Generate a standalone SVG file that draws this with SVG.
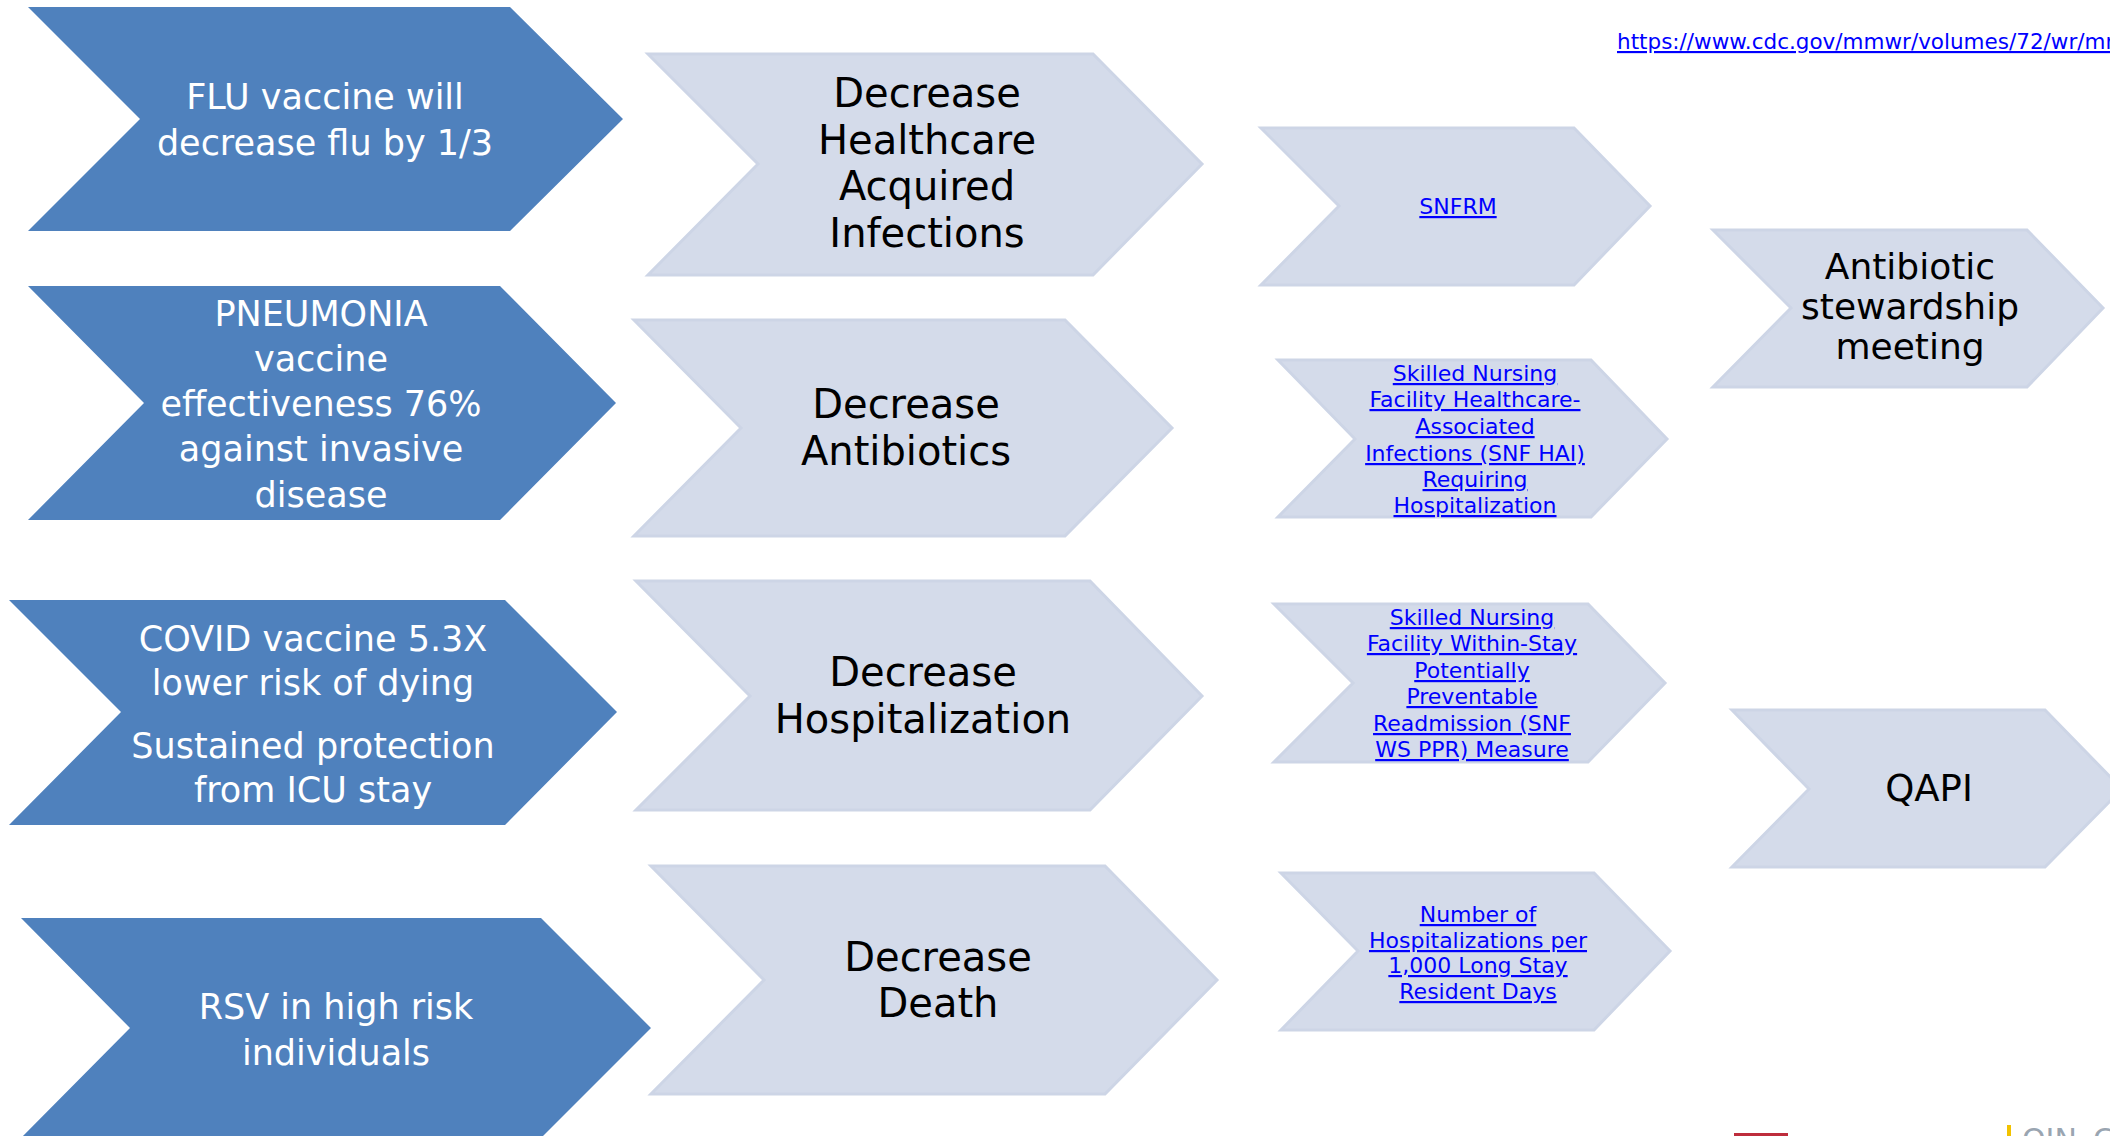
<svg xmlns="http://www.w3.org/2000/svg" width="2110" height="1136" viewBox="0 0 2110 1136">
<style>
.dark{fill:#4F81BD;}
.light{fill:#D4DBEA;stroke:#CDD5E6;stroke-width:3;stroke-linejoin:miter;}
.wt{font-family:"DejaVu Sans","Liberation Sans",sans-serif;font-size:35px;fill:#FFFFFF;text-anchor:middle;}
.bk{font-family:"DejaVu Sans","Liberation Sans",sans-serif;font-size:40px;fill:#000000;text-anchor:middle;}
.bk2{font-family:"DejaVu Sans","Liberation Sans",sans-serif;font-size:36px;fill:#000000;text-anchor:middle;}
.lk{font-family:"DejaVu Sans","Liberation Sans",sans-serif;font-size:22px;fill:#0000FF;text-anchor:middle;text-decoration:underline;}
</style>
<rect width="2110" height="1136" fill="#FFFFFF"/>

<g id="node-flu">
<polygon class="dark" points="28,7 510,7 623,119 510,231 28,231 140,119"/>
<text class="wt" x="325" y="109">FLU vaccine will</text>
<text class="wt" x="325" y="155">decrease flu by 1/3</text>
</g>

<g id="node-pneumonia">
<polygon class="dark" points="28,286 500,286 616,403 500,520 28,520 144,403"/>
<text class="wt" x="321" y="326">PNEUMONIA</text>
<text class="wt" x="321" y="371">vaccine</text>
<text class="wt" x="321" y="416">effectiveness 76%</text>
<text class="wt" x="321" y="461">against invasive</text>
<text class="wt" x="321" y="507">disease</text>
</g>

<g id="node-covid">
<polygon class="dark" points="9,600 505,600 617,712 505,825 9,825 121,712"/>
<text class="wt" x="313" y="651">COVID vaccine 5.3X</text>
<text class="wt" x="313" y="695">lower risk of dying</text>
<text class="wt" x="313" y="758">Sustained protection</text>
<text class="wt" x="313" y="802">from ICU stay</text>
</g>

<g id="node-rsv">
<polygon class="dark" points="21,918 541,918 651,1028 541,1138 21,1138 130,1028"/>
<text class="wt" x="336" y="1019">RSV in high risk</text>
<text class="wt" x="336" y="1065">individuals</text>
</g>

<g id="node-hai">
<polygon class="light" points="648,54 1093,54 1202,164 1093,275 648,275 758,164"/>
<text class="bk" x="927" y="107">Decrease</text>
<text class="bk" x="927" y="154">Healthcare</text>
<text class="bk" x="927" y="200">Acquired</text>
<text class="bk" x="927" y="247">Infections</text>
</g>

<g id="node-antibiotics">
<polygon class="light" points="634,320 1065,320 1172,428 1065,536 634,536 741,428"/>
<text class="bk" x="906" y="418">Decrease</text>
<text class="bk" x="906" y="465">Antibiotics</text>
</g>

<g id="node-hospitalization">
<polygon class="light" points="636,581 1090,581 1202,696 1090,810 636,810 750,696"/>
<text class="bk" x="923" y="686">Decrease</text>
<text class="bk" x="923" y="733">Hospitalization</text>
</g>

<g id="node-death">
<polygon class="light" points="651,866 1105,866 1217,980 1105,1094 651,1094 764,980"/>
<text class="bk" x="938" y="971">Decrease</text>
<text class="bk" x="938" y="1017">Death</text>
</g>

<g id="node-snfrm">
<polygon class="light" points="1261,128 1574,128 1650,206 1574,285 1261,285 1339,206"/>
<text class="lk" x="1458" y="214">SNFRM</text>
</g>

<g id="node-snf-hai">
<polygon class="light" points="1278,360 1591,360 1667,439 1591,517 1278,517 1355,439"/>
<text class="lk" x="1475" y="381">Skilled Nursing</text>
<text class="lk" x="1475" y="407">Facility Healthcare-</text>
<text class="lk" x="1475" y="434">Associated</text>
<text class="lk" x="1475" y="461">Infections (SNF HAI)</text>
<text class="lk" x="1475" y="487">Requiring</text>
<text class="lk" x="1475" y="513">Hospitalization</text>
</g>

<g id="node-snf-ppr">
<polygon class="light" points="1274,604 1588,604 1665,683 1588,762 1274,762 1353,683"/>
<text class="lk" x="1472" y="625">Skilled Nursing</text>
<text class="lk" x="1472" y="651">Facility Within-Stay</text>
<text class="lk" x="1472" y="678">Potentially</text>
<text class="lk" x="1472" y="704">Preventable</text>
<text class="lk" x="1472" y="731">Readmission (SNF</text>
<text class="lk" x="1472" y="757">WS PPR) Measure</text>
</g>

<g id="node-hosp-per-1000">
<polygon class="light" points="1281,873 1594,873 1670,951 1594,1030 1281,1030 1358,951"/>
<text class="lk" x="1478" y="922">Number of</text>
<text class="lk" x="1478" y="948">Hospitalizations per</text>
<text class="lk" x="1478" y="973">1,000 Long Stay</text>
<text class="lk" x="1478" y="999">Resident Days</text>
</g>

<g id="node-stewardship">
<polygon class="light" points="1713,230 2027,230 2103,308 2027,387 1713,387 1791,308"/>
<text class="bk2" x="1910" y="279">Antibiotic</text>
<text class="bk2" x="1910" y="319">stewardship</text>
<text class="bk2" x="1910" y="359">meeting</text>
</g>

<g id="node-qapi">
<polygon class="light" points="1732,710 2045,710 2122,789 2045,867 1732,867 1809,789"/>
<text class="bk2" x="1929" y="801" style="font-size:37px">QAPI</text>
</g>

<g id="connectors"></g>

<g id="url">
<text x="1617" y="49" style="font-family:'DejaVu Sans','Liberation Sans',sans-serif;font-size:21.5px;fill:#0000FF;text-decoration:underline;">https://www.cdc.gov/mmwr/volumes/72/wr/mr</text>
</g>

<g id="footer">
<rect x="1734" y="1133" width="54" height="4" fill="#BE2D3C"/>
<rect x="2007" y="1125" width="4" height="12" fill="#F2C200"/>
<text x="2022" y="1150" style="font-family:'DejaVu Sans','Liberation Sans',sans-serif;font-size:30px;fill:#9AA5B1;">OIN</text>
<text x="2093" y="1150" style="font-family:'DejaVu Sans','Liberation Sans',sans-serif;font-size:30px;fill:#9AA5B1;">C</text>
</g>
</svg>
